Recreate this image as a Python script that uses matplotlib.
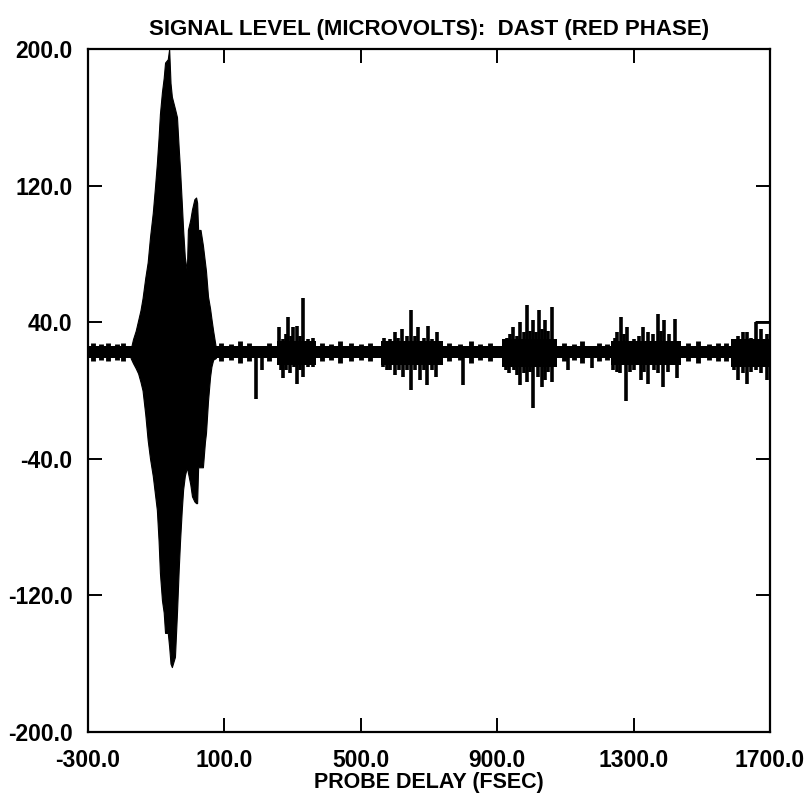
import numpy as np
import matplotlib.pyplot as plt

plt.rcParams['font.family'] = ['Liberation Sans', 'DejaVu Sans']
plt.rcParams['font.weight'] = 'bold'

# main burst envelope
main_x = [-175, -168, -160, -153, -146, -140, -132, -125, -118, -110, -104, -98, -93, -89, -83, -78,
          -74, -66, -62, -58, -54, -45, -39, -34, -30, -25, -21, -16, -10, -7, 0, 5, 12, 17, 20, 23,
          30, 37, 43, 46, 52, 58, 62, 67, 75]
main_hi = [24, 30, 35, 41, 47, 54, 66, 75, 90, 104, 118, 133, 148, 162, 175, 183,
           192, 194, 200, 180, 172, 165, 160, 142, 129, 110, 94, 78, 70, 94, 100, 106, 112, 113, 110, 94,
           94, 85, 75, 70, 55, 48, 42, 35, 25]
main_lo = [19, 16, 13, 10, 5, 0, -14, -29, -40, -50, -60, -70, -88, -107, -123, -130,
           -142, -142, -150, -160, -162, -156, -130, -105, -88, -70, -58, -50, -45, -48, -55, -62, -65, -66, -66, -45,
           -45, -45, -30, -25, -6, 8, 14, 18, 19]

# baseline noise band
base_x = [-300, 1700]
base_hi = [26, 26]
base_lo = [19, 19]

# small wiggles riding on the baseline
wig_x = [-285, -262, -240, -215, -196, 90, 118, 145, 172, 230, 385, 412, 440, 470, 500, 528,
         760, 790, 822, 850, 880, 1095, 1125, 1150, 1200, 1222, 1460, 1490, 1520, 1548, 1570]
wig_hi = [28, 27, 28, 27, 28, 28, 27, 29, 28, 28, 28, 27, 29, 28, 27, 28,
          28, 27, 29, 27, 28, 28, 27, 29, 28, 27, 28, 29, 27, 28, 28]
wig_lo = [17, 18, 17, 18, 17, 17, 18, 16, 17, 17, 17, 18, 16, 17, 18, 17,
          17, 18, 16, 18, 17, 17, 18, 16, 17, 18, 17, 16, 18, 17, 17]

# denser parts of the later bursts
core_start = [255, 560, 915, 1235, 1585]
core_end = [370, 740, 1075, 1440, 1700]
core_hi = [29, 29, 30, 29, 30]
core_lo = [15, 15, 14, 15, 14]

# individual spikes
up_x = [260, 272, 280, 287, 295, 301, 313, 322, 330, 345, 360,
        568, 578, 585, 600, 610, 621, 635, 647, 658, 668, 685, 697, 710, 723,
        929, 938, 946, 957, 967, 978, 987, 996, 1005, 1015, 1023, 1032, 1040, 1050, 1061,
        1245, 1251, 1263, 1272, 1280, 1300, 1315, 1328, 1342, 1356, 1371, 1380, 1389, 1405, 1421,
        1595, 1605, 1620, 1632, 1645, 1658, 1675, 1690]
up_y = [37, 30, 33, 43, 32, 37, 38, 32, 54, 30, 31,
        31, 29, 30, 34, 31, 36, 32, 47, 32, 37, 31, 38, 30, 34,
        31, 33, 37, 32, 40, 34, 50, 35, 41, 34, 47, 36, 41, 35, 49,
        31, 34, 43, 33, 37, 30, 32, 37, 34, 33, 45, 35, 41, 33, 42,
        30, 32, 34, 34, 31, 40, 36, 33]
down_x = [193, 210,
          265, 272, 282, 292, 303, 313, 322, 330, 345, 360,
          565, 578, 585, 600, 612, 624, 635, 647, 660, 674, 685, 694, 708, 720, 800,
          925, 935, 950, 958, 967, 978, 987, 996, 1005, 1020, 1031, 1040, 1050, 1061, 1108, 1178,
          1240, 1250, 1260, 1277, 1290, 1300, 1322, 1332, 1342, 1360, 1372, 1386, 1400, 1427,
          1595, 1605, 1620, 1632, 1645, 1660, 1675, 1691]
down_y = [-5, 12,
          12, 7, 12, 10, 14, 4, 12, 8, 14, 14,
          14, 12, 12, 9, 12, 8, 12, 0, 12, 6, 12, 3, 12, 8, 3,
          12, 10, 12, 9, 3, 10, 5, 11, -10, 8, 2, 6, 11, 5, 12, 13,
          12, 11, 10, -6, 11, 12, 6, 11, 4, 12, 10, 2, 11, 7,
          12, 6, 10, 4, 11, 12, 10, 6]
baseline = 22

# little box-shaped excursion at the right edge
box_x0, box_x1, box_y = 1655, 1700, 40

fig = plt.figure(figsize=(8.11, 7.97), dpi=100)
ax = fig.add_axes([0.1085, 0.0816, 0.8409, 0.857])

ax.fill_between(base_x, base_lo, base_hi, color='black', lw=0)
ax.vlines(wig_x, wig_lo, wig_hi, color='black', lw=3.5)
for s, e, h, l in zip(core_start, core_end, core_hi, core_lo):
    ax.fill_between([s, e], [l, l], [h, h], color='black', lw=0)
ax.fill_between(main_x, main_lo, main_hi, color='black', lw=0.8, edgecolor='black')
ax.vlines(up_x, baseline, up_y, color='black', lw=2.6)
ax.vlines(down_x, down_y, baseline, color='black', lw=2.6)
ax.hlines(box_y, box_x0, box_x1, color='black', lw=2.0)

ax.set_xlim(-300, 1700)
ax.set_ylim(-200, 200)
ax.set_xticks(np.arange(-300, 1701, 400))
ax.set_yticks(np.arange(-200, 201, 80))
ax.xaxis.set_major_formatter(plt.FormatStrFormatter('%.1f'))
ax.yaxis.set_major_formatter(plt.FormatStrFormatter('%.1f'))
ax.tick_params(direction='in', length=10, width=1.4, top=True, right=True, labelsize=16.5)
ax.tick_params(axis='x', pad=12)
ax.tick_params(axis='y', pad=11)
for sp in ax.spines.values():
    sp.set_linewidth(1.6)

ax.set_title('SIGNAL LEVEL (MICROVOLTS):  DAST (RED PHASE)', fontsize=16, fontweight='bold', pad=10)
ax.set_xlabel('PROBE DELAY (FSEC)', fontsize=15.5, fontweight='bold', labelpad=0)

fig.savefig('out.png', dpi=100)
